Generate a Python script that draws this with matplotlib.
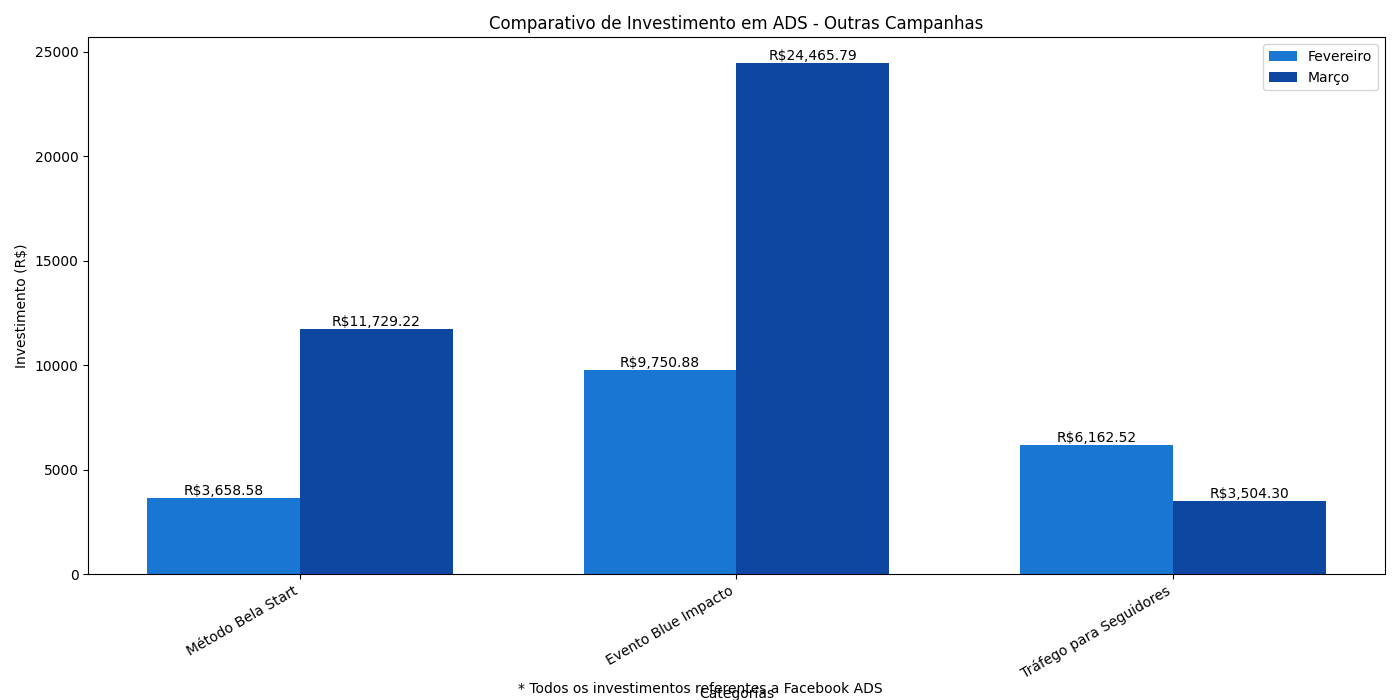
import numpy as np
import matplotlib.pyplot as plt

categorias = ['Método Bela Start', 'Evento Blue Impacto', 'Tráfego para Seguidores']
fevereiro = [3658.58, 9750.88, 6162.52]
marco = [11729.22, 24465.79, 3504.30]

x = np.arange(len(categorias))
largura = 0.35

fig, ax = plt.subplots(figsize=(14, 7), dpi=100)
b1 = ax.bar(x - largura / 2, fevereiro, largura, label='Fevereiro', color='#1976D2')
b2 = ax.bar(x + largura / 2, marco, largura, label='Março', color='#0D47A1')

# valores em cima das barras
for barras in (b1, b2):
    for b in barras:
        h = b.get_height()
        ax.text(b.get_x() + b.get_width() / 2, h, f'R${h:,.2f}',
                ha='center', va='bottom', fontsize=10)

ax.set_xlabel('Categorias')
ax.set_ylabel('Investimento (R$)')
ax.set_title('Comparativo de Investimento em ADS - Outras Campanhas')
ax.set_xticks(x)
ax.set_xticklabels(categorias, rotation=30, ha='right')
ax.legend()

plt.subplots_adjust(left=0.063, right=0.989, top=0.947, bottom=0.18)
fig.text(0.5, 0.01, '* Todos os investimentos referentes a Facebook ADS', ha='center', fontsize=10)
plt.savefig('out.png')
